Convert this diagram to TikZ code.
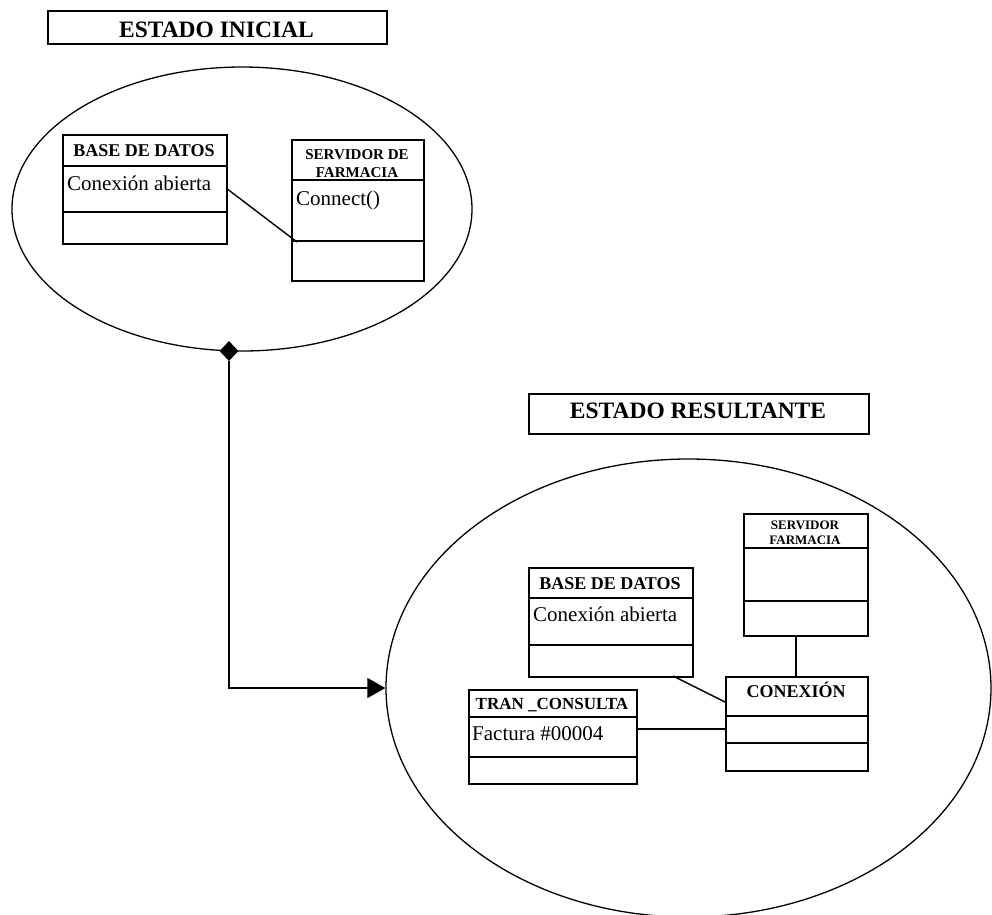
\documentclass[tikz,border=0pt]{standalone}
\usepackage{fontspec}
\setmainfont{Liberation Serif}
\usetikzlibrary{shapes.geometric,arrows.meta}

\tikzset{
  frame/.style={draw, line width=1.7pt, rectangle, inner sep=0pt, anchor=north west},
  sepline/.style={line width=1.7pt},
  link/.style={line width=1.4pt},
  state/.style={draw, ellipse, line width=1.3pt, inner sep=0pt},
  ttl/.style={font=\bfseries\fontsize{23.5}{26}\selectfont, anchor=base},
  hdr/.style={font=\bfseries\fontsize{18}{20}\selectfont, anchor=base},
  attr/.style={font=\fontsize{21}{24}\selectfont, anchor=base west, inner sep=0pt},
}

\begin{document}
\begin{tikzpicture}[x=1pt,y=-1pt]
\useasboundingbox (0,0) rectangle (992,914);

% ---------- initial state ----------
\node[frame, minimum width=339pt, minimum height=33pt] (t1) at (47,10) {};
\node[ttl] (t1txt) at (216.5,37) {ESTADO INICIAL};

\node[state, minimum width=460pt, minimum height=284pt] (e1) at (242,209) {};

% BASE DE DATOS
\node[frame, minimum width=164pt, minimum height=109pt] (bd1) at (62,134) {};
\draw[sepline] (62,166) -- (226,166);
\draw[sepline] (62,212) -- (226,212);
\node[hdr] (bd1h) at (144,156) {BASE DE DATOS};
\node[attr] (bd1a) at (67,190) {Conexión abierta};

% SERVIDOR DE FARMACIA
\node[frame, minimum width=132pt, minimum height=141pt] (sv1) at (291,139) {};
\draw[sepline] (291,180) -- (423,180);
\draw[sepline] (291,241) -- (423,241);
\node[font=\bfseries\fontsize{15}{18}\selectfont, anchor=base] (sv1h1) at (357,159) {SERVIDOR DE};
\node[font=\bfseries\fontsize{15}{18}\selectfont, anchor=base] (sv1h2) at (357,177) {FARMACIA};
\node[attr] (sv1a) at (296,205) {Connect()};

\coordinate (bd1out) at (226,188);
\coordinate (sv1in) at (297,242);
\draw[link] (bd1out) -- (sv1in);

% ---------- transition ----------
\node[diamond, fill=black, inner sep=0pt, minimum width=19pt, minimum height=20pt] (dia) at (229,351) {};

% ---------- resulting state ----------
\node[frame, minimum width=340pt, minimum height=40pt] (t2) at (528,393) {};
\node[ttl] (t2txt) at (698,418) {ESTADO RESULTANTE};

\node[state, minimum width=605pt, minimum height=458pt] (e2) at (688.5,688) {};

\draw[link, -{Triangle[length=18pt,width=20pt]}] (dia.south) |- (e2.west);

% SERVIDOR FARMACIA
\node[frame, minimum width=124pt, minimum height=122pt] (sv2) at (743,513) {};
\draw[sepline] (743,548) -- (867,548);
\draw[sepline] (743,601) -- (867,601);
\node[font=\bfseries\fontsize{13}{15}\selectfont, anchor=base] (sv2h1) at (805,529) {SERVIDOR};
\node[font=\bfseries\fontsize{13}{15}\selectfont, anchor=base] (sv2h2) at (805,544) {FARMACIA};

% BASE DE DATOS
\node[frame, minimum width=164pt, minimum height=109pt] (bd2) at (528,567) {};
\draw[sepline] (528,598) -- (692,598);
\draw[sepline] (528,645) -- (692,645);
\node[hdr] (bd2h) at (610,589) {BASE DE DATOS};
\node[attr] (bd2a) at (533,621) {Conexión abierta};

% CONEXIÓN
\node[frame, minimum width=142pt, minimum height=94pt] (cx) at (725,676) {};
\draw[sepline] (725,716) -- (867,716);
\draw[sepline] (725,743) -- (867,743);
\node[hdr] (cxh) at (796,697) {CONEXIÓN};

% TRAN _CONSULTA
\node[frame, minimum width=168pt, minimum height=94pt] (tr) at (468,689) {};
\draw[sepline] (468,717) -- (636,717);
\draw[sepline] (468,757) -- (636,757);
\node[font=\bfseries\fontsize{17}{20}\selectfont, anchor=base] (trh) at (552,709) {TRAN \_CONSULTA};
\node[attr] (tra) at (472,740) {Factura \#00004};

% associations
\coordinate (sv2out) at (796,635);
\coordinate (cxtop) at (796,676);
\draw[link] (sv2out) -- (cxtop);
\coordinate (bd2out) at (673,676);
\coordinate (cxleft) at (725,702);
\draw[link] (bd2out) -- (cxleft);
\coordinate (trout) at (636,729);
\coordinate (cxin) at (725,729);
\draw[link] (trout) -- (cxin);
\end{tikzpicture}
\end{document}
